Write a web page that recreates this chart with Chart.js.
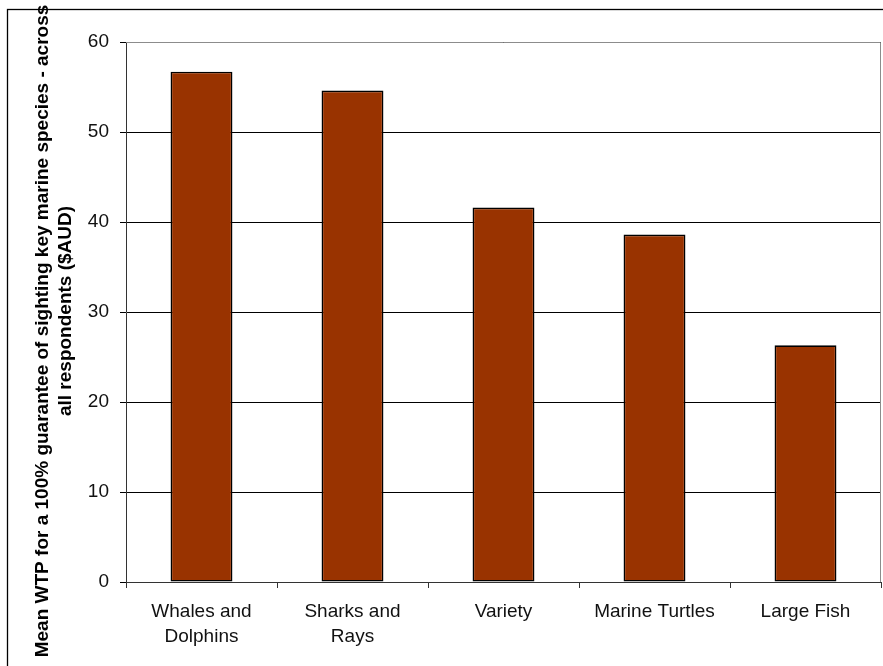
<!DOCTYPE html>
<html>
<head>
<meta charset="utf-8">
<script src="https://cdn.jsdelivr.net/npm/chart.js@4"></script>
<style>
  html, body { margin: 0; padding: 0; background: #fff; }
  #wrap { width: 883px; height: 666px; }
</style>
</head>
<body>
<div id="wrap"><canvas id="wtpChart" width="883" height="666"></canvas></div>
<script>
// categories and values
const categories = [['Whales and', 'Dolphins'], ['Sharks and', 'Rays'], 'Variety', 'Marine Turtles', 'Large Fish'];
const meanWtp = [56.7, 54.6, 41.6, 38.6, 26.3];
const yTicks = [0, 10, 20, 30, 40, 50, 60];
const titleLines = ['Mean WTP for a 100% guarantee of sighting key marine species - across', 'all respondents ($AUD)'];

const FONT = '"Liberation Sans", Arial, sans-serif';

// outer frame, plot box and rotated y title
const framePlugin = {
    id: 'frame',
    beforeDraw(chart) {
        const c = chart.ctx;
        c.save();
        c.fillStyle = '#fff';
        c.fillRect(0, 0, chart.width, chart.height);
        c.strokeStyle = '#000';
        c.lineWidth = 1.3;
        c.strokeRect(7.5, 9.5, 1000, 1000);
        c.restore();
    },
    afterDatasetsDraw(chart) {
        const a = chart.chartArea;
        const c = chart.ctx;
        c.save();
        c.strokeStyle = '#8c8c8c';
        c.lineWidth = 1;
        c.beginPath();
        c.moveTo(a.left, a.top + 0.5);
        c.lineTo(a.right - 0.5, a.top + 0.5);
        c.lineTo(a.right - 0.5, a.bottom);
        c.stroke();
        c.restore();
    },
    afterDraw(chart) {
        const c = chart.ctx;
        const pos = [[48, 331], [71, 311]];
        titleLines.forEach((line, i) => {
            c.save();
            c.fillStyle = '#000';
            c.font = 'bold 19px ' + FONT;
            c.textAlign = 'center';
            c.textBaseline = 'alphabetic';
            c.translate(pos[i][0], pos[i][1]);
            c.rotate(-Math.PI / 2);
            c.fillText(line, 0, 0);
            c.restore();
        });
    }
};

const ctx = document.getElementById('wtpChart').getContext('2d');
new Chart(ctx, {
    type: 'bar',
    data: {
        labels: categories,
        datasets: [{
            label: 'Mean WTP',
            data: meanWtp,
            backgroundColor: '#993300',
            borderColor: '#000',
            borderWidth: 1.6,
            borderSkipped: false,
            barPercentage: 0.41,
            categoryPercentage: 1
        }]
    },
    options: {
        responsive: false,
        animation: false,
        layout: { padding: { top: 42, right: 2, left: 0, bottom: 0 } },
        plugins: {
            legend: { display: false },
            tooltip: { enabled: false }
        },
        scales: {
            x: {
                grid: {
                    offset: true,
                    drawOnChartArea: false,
                    drawTicks: true,
                    tickLength: 6,
                    color: '#333'
                },
                border: { color: '#333', width: 1 },
                ticks: {
                    color: '#111',
                    padding: 11,
                    maxRotation: 0,
                    autoSkip: false,
                    font: { family: FONT, size: 19, lineHeight: 1.32 }
                },
                afterFit(scale) { scale.height = 84; }
            },
            y: {
                min: 0,
                max: 60,
                afterBuildTicks(scale) { scale.ticks = yTicks.map(v => ({ value: v })); },
                grid: {
                    color: '#000',
                    lineWidth: 1,
                    tickLength: 6
                },
                border: { color: '#333', width: 1 },
                ticks: {
                    color: '#111',
                    padding: 11,
                    font: { family: FONT, size: 19 }
                },
                afterFit(scale) { scale.width = 126; }
            }
        }
    },
    plugins: [framePlugin]
});
</script>
</body>
</html>
